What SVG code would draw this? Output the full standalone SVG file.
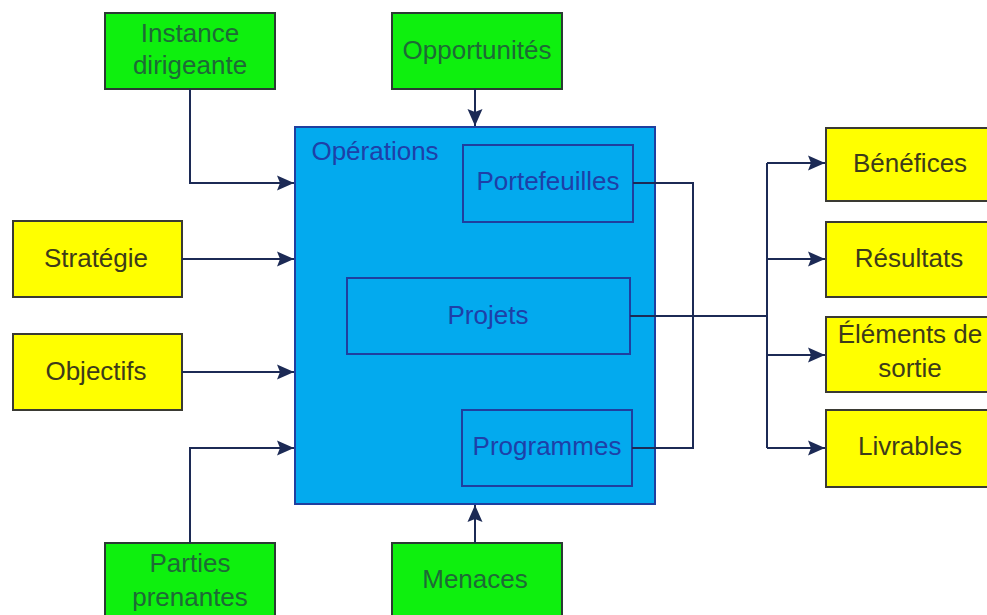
<svg xmlns="http://www.w3.org/2000/svg" width="987" height="615" viewBox="0 0 987 615">
<style>
text{font-family:"Liberation Sans",Arial,sans-serif;font-size:26px;text-anchor:middle}
.g rect{fill:#0ef00e;stroke:#2b3a33;stroke-width:2}
.g text{fill:#1e6a36}
.y rect{fill:#ffff00;stroke:#3a3a33;stroke-width:2}
.y text{fill:#3d3b1a}
.b rect{fill:#03aaee;stroke:#1f3f9f;stroke-width:2}
.b text{fill:#1e40a8}
#connectors path{fill:none;stroke:#1c2a55;stroke-width:2}
</style>
<defs>
<marker id="arr" markerUnits="userSpaceOnUse" markerWidth="18" markerHeight="16" viewBox="0 0 18 16" refX="17" refY="8" orient="auto">
<path d="M0,0.5 L17,8 L0,15.5 L3,8 Z" fill="#1c2a55"/>
</marker>
</defs>
<rect width="987" height="615" fill="#ffffff"/>
<g id="operations" class="b">
<rect x="295" y="127" width="360" height="377"/>
<text x="375" y="160">Opérations</text>
</g>
<g id="portefeuilles" class="b">
<rect x="463" y="145" width="170" height="77"/>
<text x="548" y="190">Portefeuilles</text>
</g>
<g id="projets" class="b">
<rect x="347" y="278" width="283" height="76"/>
<text x="488" y="324">Projets</text>
</g>
<g id="programmes" class="b">
<rect x="462" y="410" width="170" height="76"/>
<text x="547" y="455">Programmes</text>
</g>
<g id="instance" class="g">
<rect x="105" y="13" width="170" height="76"/>
<text x="190" y="42">Instance</text>
<text x="190" y="74">dirigeante</text>
</g>
<g id="opportunites" class="g">
<rect x="392" y="13" width="170" height="76"/>
<text x="477" y="59">Opportunités</text>
</g>
<g id="parties" class="g">
<rect x="105" y="543" width="170" height="80"/>
<text x="190" y="572">Parties</text>
<text x="190" y="606">prenantes</text>
</g>
<g id="menaces" class="g">
<rect x="392" y="543" width="170" height="80"/>
<text x="475" y="588">Menaces</text>
</g>
<g id="strategie" class="y">
<rect x="13" y="221" width="169" height="76"/>
<text x="96" y="267">Stratégie</text>
</g>
<g id="objectifs" class="y">
<rect x="13" y="334" width="169" height="76"/>
<text x="96" y="380">Objectifs</text>
</g>
<g id="benefices" class="y">
<rect x="826" y="128" width="162" height="73"/>
<text x="910" y="172">Bénéfices</text>
</g>
<g id="resultats" class="y">
<rect x="826" y="222" width="162" height="75"/>
<text x="909" y="267">Résultats</text>
</g>
<g id="elements" class="y">
<rect x="826" y="317" width="162" height="75"/>
<text x="910" y="343">Éléments de</text>
<text x="910" y="377">sortie</text>
</g>
<g id="livrables" class="y">
<rect x="826" y="410" width="162" height="77"/>
<text x="910" y="455">Livrables</text>
</g>
<g id="connectors">
<path d="M190,89 V183 H294" marker-end="url(#arr)"/>
<path d="M182,259 H294" marker-end="url(#arr)"/>
<path d="M182,372 H294" marker-end="url(#arr)"/>
<path d="M190,543 V448 H294" marker-end="url(#arr)"/>
<path d="M475,89 V126" marker-end="url(#arr)"/>
<path d="M475,543 V505" marker-end="url(#arr)"/>
<path d="M633,183 H693 V448 H632"/>
<path d="M630,316 H767"/>
<path d="M767,163 V448"/>
<path d="M767,163 H825" marker-end="url(#arr)"/>
<path d="M767,259 H825" marker-end="url(#arr)"/>
<path d="M767,355 H825" marker-end="url(#arr)"/>
<path d="M767,448 H825" marker-end="url(#arr)"/>
</g>
</svg>
